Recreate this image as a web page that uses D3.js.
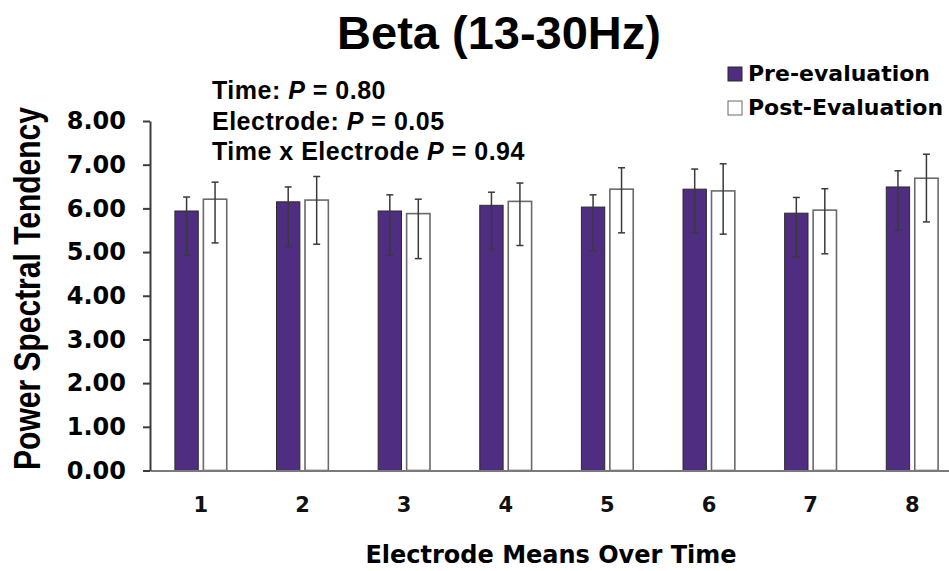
<!DOCTYPE html>
<html>
<head>
<meta charset="utf-8">
<script src="https://cdn.jsdelivr.net/npm/d3@7"></script>
<style>
  body { margin: 0; background: #fff; }
  svg { display: block; }
</style>
</head>
<body>
<div id="chart"></div>
<script>
// DATA
const electrodes = ["1", "2", "3", "4", "5", "6", "7", "8"];
const seriesNames = ["Pre-evaluation", "Post-Evaluation"];
const preMeans  = [5.94, 6.15, 5.94, 6.07, 6.03, 6.44, 5.89, 6.49];
const preUpper  = [6.26, 6.49, 6.31, 6.37, 6.31, 6.90, 6.25, 6.86];
const preLower  = [4.93, 5.13, 4.93, 5.06, 5.03, 5.44, 4.89, 5.50];
const postMeans = [6.21, 6.19, 5.88, 6.16, 6.44, 6.40, 5.96, 6.69];
const postUpper = [6.60, 6.73, 6.21, 6.58, 6.93, 7.02, 6.45, 7.24];
const postLower = [5.21, 5.18, 4.85, 5.15, 5.44, 5.41, 4.96, 5.69];
const yTicks = [0, 1, 2, 3, 4, 5, 6, 7, 8];
const statLines = [
    { label: "Time: ", p: "0.80" },
    { label: "Electrode: ", p: "0.05" },
    { label: "Time x Electrode ", p: "0.94" }
];

// CONSTANTS
const width = 949,
    height = 571,
    margin = { top: 121, bottom: 100.5, left: 150, right: -14 };
const colors = { pre: "#4f2d80", post: "#ffffff" };
const wideFont = "'DejaVu Sans', Verdana, sans-serif";
const arialFont = "'Liberation Sans', Arial, sans-serif";

const data = electrodes.map((e, i) => ({
    electrode: e,
    values: [
        { key: "pre", mean: preMeans[i], hi: preUpper[i], lo: preLower[i] },
        { key: "post", mean: postMeans[i], hi: postUpper[i], lo: postLower[i] }
    ]
}));

const svg = d3.select("#chart")
    .append("svg")
    .attr("width", width)
    .attr("height", height);

// SCALES
const x0Scale = d3.scaleBand()
    .domain(electrodes)
    .range([margin.left, width - margin.right])
    .paddingInner(0.49)
    .paddingOuter(0.245);

const x1Scale = d3.scaleBand()
    .domain(["pre", "post"])
    .range([0, x0Scale.bandwidth()])
    .paddingInner(0.18);

const yScale = d3.scaleLinear()
    .domain([0, 8])
    .range([height - margin.bottom, margin.top]);

// AXES
const yAxis = d3.axisLeft(yScale)
    .tickValues(yTicks)
    .tickFormat(d3.format(".2f"))
    .tickSize(7)
    .tickSizeOuter(0)
    .tickPadding(17);

const xAxis = d3.axisBottom(x0Scale)
    .tickSize(0)
    .tickPadding(27);

const group = svg.selectAll(".electrode")
    .data(data)
    .join("g")
    .attr("class", "electrode")
    .attr("transform", d => `translate(${x0Scale(d.electrode)},0)`);

group.selectAll("rect")
    .data(d => d.values)
    .join("rect")
    .attr("x", d => x1Scale(d.key))
    .attr("y", d => yScale(d.mean))
    .attr("width", x1Scale.bandwidth())
    .attr("height", d => yScale(0) - yScale(d.mean))
    .attr("fill", d => colors[d.key])
    .attr("stroke", d => d.key === "pre" ? "#2b2b2b" : "#6a6a6a")
    .attr("stroke-width", d => d.key === "pre" ? 1 : 1.6);

// error bars
const err = group.selectAll(".err")
    .data(d => d.values)
    .join("g")
    .attr("class", "err")
    .attr("stroke", "#3a3a3a")
    .attr("stroke-width", 1.5)
    .attr("transform", d => `translate(${x1Scale(d.key) + x1Scale.bandwidth() / 2},0)`);

err.append("line")
    .attr("y1", d => yScale(d.hi))
    .attr("y2", d => yScale(d.lo));
err.append("line")
    .attr("x1", -3.5).attr("x2", 3.5)
    .attr("y1", d => yScale(d.hi))
    .attr("y2", d => yScale(d.hi));
err.append("line")
    .attr("x1", -3.5).attr("x2", 3.5)
    .attr("y1", d => yScale(d.lo))
    .attr("y2", d => yScale(d.lo));

const gx = svg.append("g")
    .attr("transform", `translate(0,${yScale(0)})`)
    .call(xAxis);
gx.select(".domain").attr("stroke", "#7a7a7a").attr("stroke-width", 2);
gx.selectAll("text")
    .attr("font-family", wideFont)
    .attr("font-weight", "bold")
    .attr("font-size", 21)
    .attr("fill", "#111");

const gy = svg.append("g")
    .attr("transform", `translate(${margin.left},0)`)
    .call(yAxis);
gy.select(".domain").attr("stroke", "#3c3c3c").attr("stroke-width", 2);
gy.selectAll(".tick line").attr("stroke", "#3c3c3c").attr("stroke-width", 2);
gy.selectAll("text")
    .attr("font-family", wideFont)
    .attr("font-weight", "bold")
    .attr("font-size", 24)
    .attr("fill", "#000");

// TITLES
svg.append("text")
    .attr("x", 499)
    .attr("y", 49)
    .attr("text-anchor", "middle")
    .attr("font-family", arialFont)
    .attr("font-weight", "bold")
    .attr("font-size", 47)
    .text("Beta (13-30Hz)");

svg.append("text")
    .attr("x", 551)
    .attr("y", 563)
    .attr("text-anchor", "middle")
    .attr("font-family", wideFont)
    .attr("font-weight", "bold")
    .attr("font-size", 24)
    .text("Electrode Means Over Time");

// y title is drawn a bit wider than it is tall, like the source figure
svg.append("text")
    .attr("transform", `translate(40,${(105 + 472) / 2}) rotate(-90) scale(1,1.22)`)
    .attr("text-anchor", "middle")
    .attr("font-family", arialFont)
    .attr("font-weight", "bold")
    .attr("font-size", 30)
    .text("Power Spectral Tendency");

// stats annotation
const stats = svg.append("g")
    .attr("font-family", arialFont)
    .attr("font-weight", "bold")
    .attr("font-size", 25)
    .attr("letter-spacing", 0.5);
stats.selectAll("text")
    .data(statLines)
    .join("text")
    .attr("x", 212)
    .attr("y", (d, i) => 99 + i * 30.5)
    .each(function (d) {
        const t = d3.select(this);
        t.append("tspan").text(d.label);
        t.append("tspan").attr("font-style", "italic").text("P");
        t.append("tspan").text(" = " + d.p);
    });

// LEGEND
const legend = svg.append("g")
    .selectAll("g")
    .data(seriesNames)
    .join("g")
    .attr("transform", (d, i) => `translate(728,${67 + i * 34})`);
legend.append("rect")
    .attr("width", 14)
    .attr("height", 14)
    .attr("fill", (d, i) => i === 0 ? colors.pre : colors.post)
    .attr("stroke", (d, i) => i === 0 ? "#2b2b2b" : "#6a6a6a")
    .attr("stroke-width", 1);
legend.append("text")
    .attr("x", 20)
    .attr("y", 14)
    .attr("font-family", wideFont)
    .attr("font-weight", "bold")
    .attr("font-size", 22)
    .text(d => d);
</script>
</body>
</html>
